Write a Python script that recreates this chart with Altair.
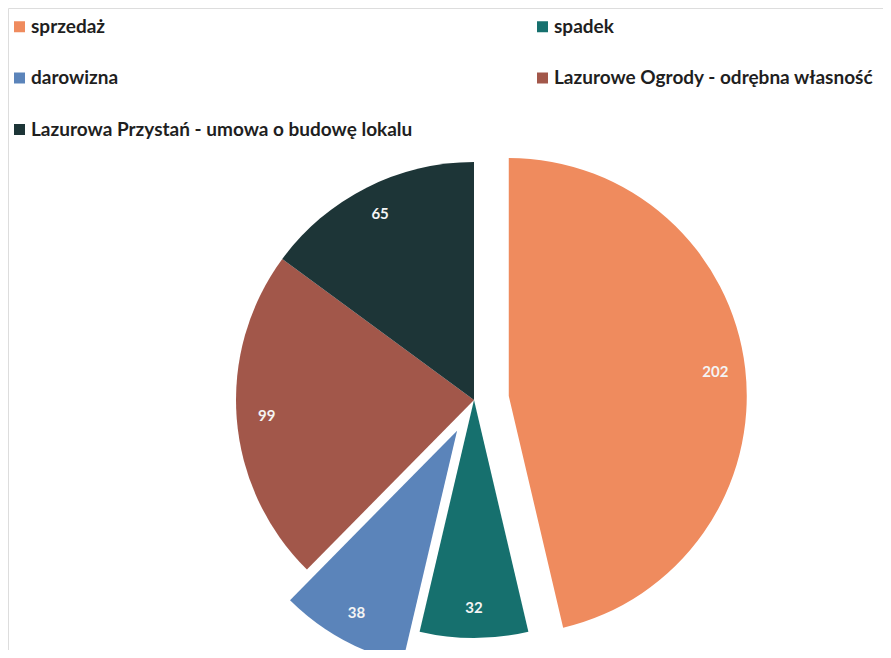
import altair as alt
import pandas as pd

categories = [
    "sprzedaż",
    "spadek",
    "darowizna",
    "Lazurowe Ogrody - odrębna własność",
    "Lazurowa Przystań - umowa o budowę lokalu",
]
values = [202, 32, 38, 99, 65]
pulled_out = [True, False, True, False, False]
colors = ["#EF8B5E", "#16706E", "#5B84BA", "#A2574A", "#1D3537"]

df = pd.DataFrame({
    "idx": list(range(len(categories))),
    "category": categories,
    "value": values,
    "pulled": pulled_out,
})

CX, CY, R, GAP, LR = 466, 392, 238, 35, 208
FONT = "Lato"

base = (
    alt.Chart(df)
    .transform_window(cum="sum(value)", sort=[alt.SortField("idx")])
    .transform_joinaggregate(total="sum(value)")
    .transform_calculate(
        a1="2*PI*datum.cum/datum.total",
        a0="2*PI*(datum.cum-datum.value)/datum.total",
    )
    .transform_calculate(mid="(datum.a0+datum.a1)/2",
                         off=f"datum.pulled ? {GAP} : 0")
    .transform_calculate(
        cx=f"{CX}+datum.off*sin(datum.mid)",
        cy=f"{CY}-datum.off*cos(datum.mid)",
    )
    .transform_calculate(
        lx=f"datum.cx+{LR}*sin(datum.mid)",
        ly=f"datum.cy-{LR}*cos(datum.mid)",
    )
)

arcs = base.mark_arc(radius=R, stroke=None).encode(
    x=alt.X("cx:Q", scale=None, axis=None),
    y=alt.Y("cy:Q", scale=None, axis=None),
    theta=alt.Theta("a0:Q", scale=None),
    theta2="a1:Q",
    color=alt.Color(
        "category:N",
        scale=alt.Scale(domain=categories, range=colors),
        sort=categories,
        legend=alt.Legend(
            title=None,
            orient="none",
            legendX=2,
            legendY=9,
            direction="horizontal",
            columns=2,
            columnPadding=120,
            rowPadding=31.5,
            symbolType="square",
            symbolSize=121,
            symbolStrokeWidth=0,
            symbolOpacity=1,
            labelFont=FONT,
            labelFontSize=19,
            labelFontWeight="bold",
            labelColor="#1f1f1f",
            labelLimit=0,
            labelOffset=2,
        ),
    ),
)

labels = base.mark_text(
    font=FONT, fontSize=15, fontWeight="bold", color="#F4F4F4",
    align="center", baseline="middle",
).encode(
    x=alt.X("lx:Q", scale=None, axis=None),
    y=alt.Y("ly:Q", scale=None, axis=None),
    text="value:Q",
)

chart = (
    alt.layer(arcs, labels)
    .properties(width=875, height=642, padding=0,
                autosize=alt.AutoSizeParams(type="none"))
    .configure_view(stroke=None)
    .configure(background="white")
)

chart.save("out.html", embed_options={"renderer": "svg", "actions": False})
